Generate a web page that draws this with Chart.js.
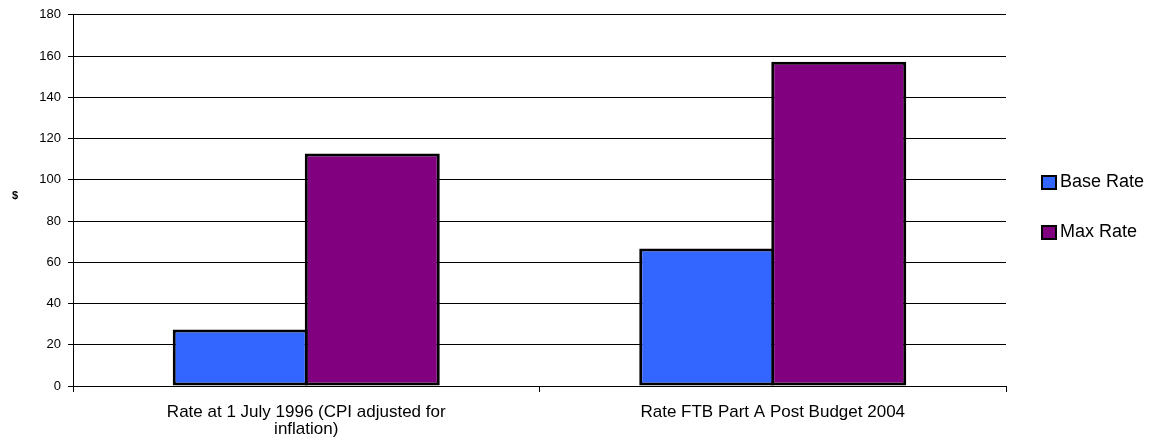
<!DOCTYPE html>
<html>
<head>
<meta charset="utf-8">
<script src="https://cdn.jsdelivr.net/npm/chart.js@4/dist/chart.umd.min.js"></script>
<style>
  html, body { margin: 0; padding: 0; background: #ffffff; }
  #wrap { width: 1154px; height: 448px; }
</style>
</head>
<body>
<div id="wrap"><canvas id="chart" width="1154" height="448"></canvas></div>
<script>
// Weekly payment rates ($)
const categories = [
  ["Rate at 1 July 1996 (CPI adjusted for", "inflation)"],
  "Rate FTB Part A Post Budget 2004"
];
const seriesNames = ["Base Rate", "Max Rate"];
const baseRate = [27.4, 66.7];
const maxRate = [112.7, 157.2];
const yTicks = [0, 20, 40, 60, 80, 100, 120, 140, 160, 180];
const yAxisTitle = "$";

const FONT = "'Liberation Sans', Arial, sans-serif";

// Unrotated "$" axis title beside the value axis
const yTitlePlugin = {
  id: 'yTitle',
  afterDraw(chart) {
    const { ctx, chartArea } = chart;
    ctx.save();
    ctx.font = "bold 11px " + FONT;
    ctx.fillStyle = '#000';
    ctx.textAlign = 'center';
    ctx.textBaseline = 'middle';
    ctx.fillText(yAxisTitle, 15, (chartArea.top + chartArea.bottom) / 2 - 4);
    ctx.restore();
  }
};

// Legend on the right: bordered swatch + series name
const sideLegendPlugin = {
  id: 'sideLegend',
  afterDraw(chart) {
    const { ctx, chartArea } = chart;
    const x0 = chartArea.right + 35;
    ctx.save();
    ctx.font = "18px " + FONT;
    ctx.textBaseline = 'middle';
    chart.data.datasets.forEach((ds, i) => {
      const y = 175 + i * 50;
      ctx.fillStyle = '#000';
      ctx.fillRect(x0, y, 16, 15);
      ctx.fillStyle = ds.backgroundColor;
      ctx.fillRect(x0 + 2, y + 2, 12, 11);
      ctx.fillStyle = '#000';
      ctx.fillText(ds.label, x0 + 19, y + 7.5);
    });
    ctx.restore();
  }
};

// Bars in a group overlap by one border width so neighbours share a single outline
const barShape = {
  borderColor: '#000000',
  borderWidth: 3,
  borderSkipped: false,
  categoryPercentage: 0.566,
  barPercentage: 1.0227
};

new Chart(document.getElementById('chart'), {
  type: 'bar',
  data: {
    labels: categories,
    datasets: [
      Object.assign({ label: seriesNames[0], data: baseRate, backgroundColor: '#3366FF' }, barShape),
      Object.assign({ label: seriesNames[1], data: maxRate, backgroundColor: '#800080' }, barShape)
    ]
  },
  options: {
    responsive: false,
    animation: false,
    layout: { padding: { top: 14, left: 0, right: 148, bottom: 0 } },
    plugins: {
      legend: { display: false },
      tooltip: { enabled: false }
    },
    scales: {
      x: {
        grid: {
          offset: true,
          drawOnChartArea: false,
          drawTicks: true,
          tickLength: 6,
          color: '#000'
        },
        border: { display: true, color: '#000', width: 1 },
        ticks: {
          color: '#000',
          font: { family: FONT, size: 17, lineHeight: 1.0 },
          padding: 12,
          maxRotation: 0,
          autoSkip: false
        },
        afterFit(scale) { scale.height = 62; }
      },
      y: {
        min: 0,
        max: 180,
        afterBuildTicks(scale) { scale.ticks = yTicks.map(v => ({ value: v })); },
        grid: {
          color: '#000',
          lineWidth: 1,
          drawTicks: true,
          tickLength: 5
        },
        border: { display: true, color: '#000', width: 1 },
        ticks: {
          color: '#000',
          font: { family: FONT, size: 13 },
          padding: 7
        },
        afterFit(scale) { scale.width = 73; }
      }
    }
  },
  plugins: [yTitlePlugin, sideLegendPlugin]
});
</script>
</body>
</html>
